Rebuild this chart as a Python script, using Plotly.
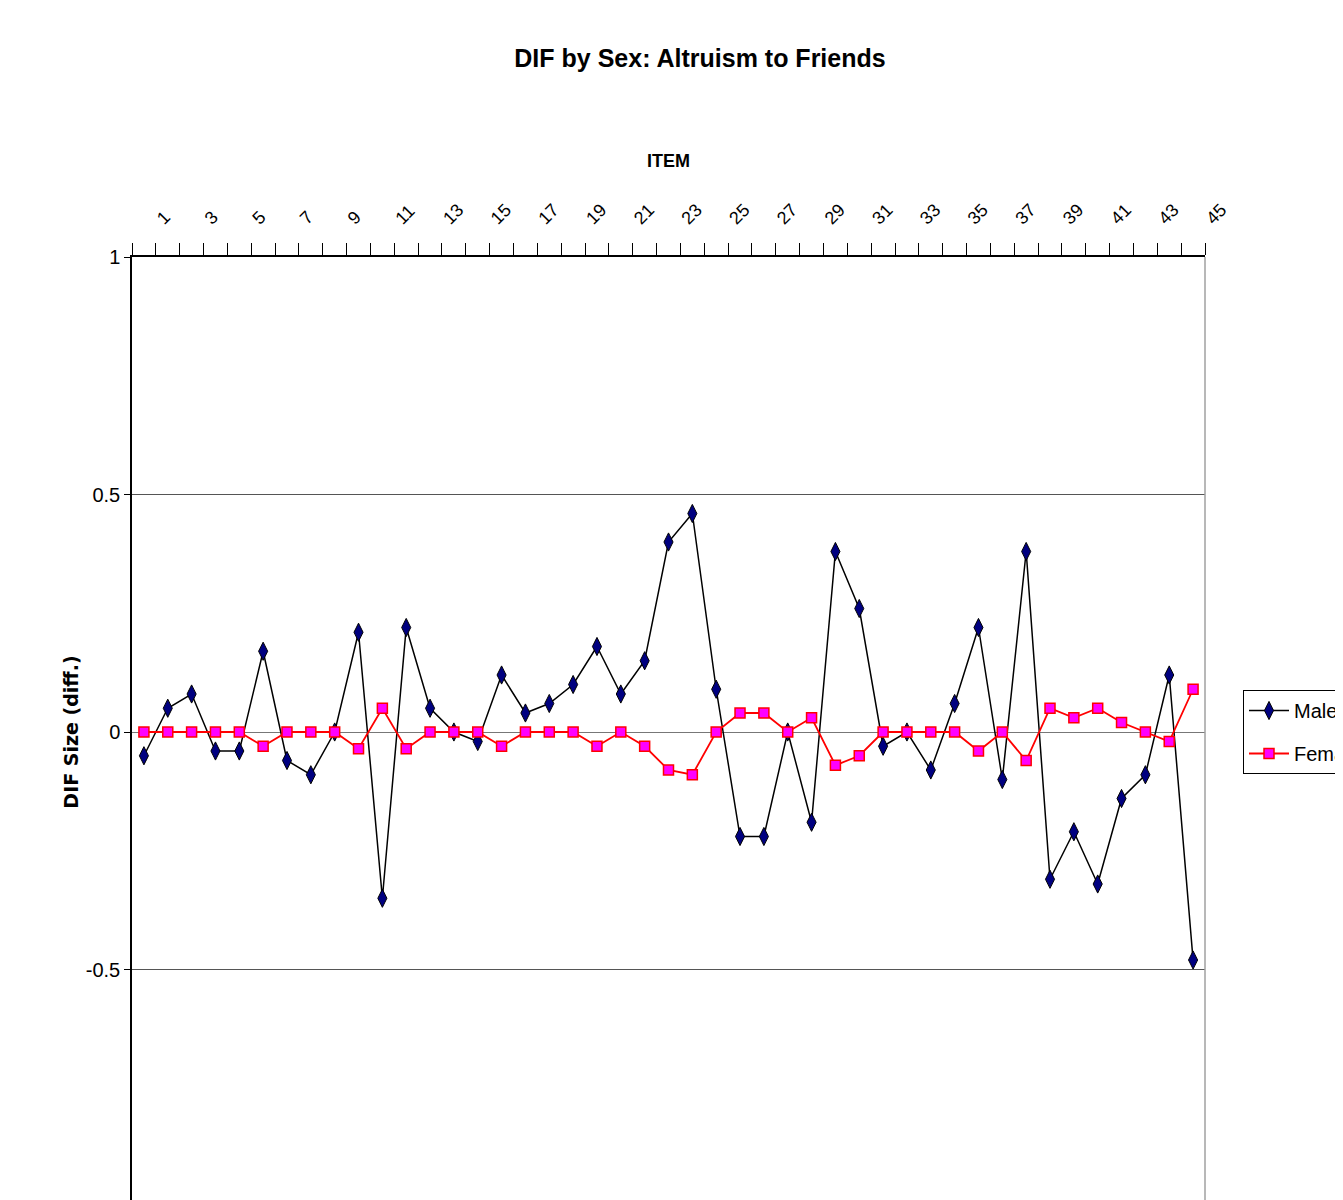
import plotly.graph_objects as go

items = list(range(1, 46))
male = [-0.05, 0.05, 0.08, -0.04, -0.04, 0.17, -0.06, -0.09, 0.00, 0.21,
        -0.35, 0.22, 0.05, 0.00, -0.02, 0.12, 0.04, 0.06, 0.10, 0.18,
        0.08, 0.15, 0.40, 0.46, 0.09, -0.22, -0.22, 0.00, -0.19, 0.38,
        0.26, -0.03, 0.00, -0.08, 0.06, 0.22, -0.10, 0.38, -0.31, -0.21,
        -0.32, -0.14, -0.09, 0.12, -0.48]
female = [0.00, 0.00, 0.00, 0.00, 0.00, -0.03, 0.00, 0.00, 0.00, -0.035,
          0.05, -0.035, 0.00, 0.00, 0.00, -0.03, 0.00, 0.00, 0.00, -0.03,
          0.00, -0.03, -0.08, -0.09, 0.00, 0.04, 0.04, 0.00, 0.03, -0.07,
          -0.05, 0.00, 0.00, 0.00, 0.00, -0.04, 0.00, -0.06, 0.05, 0.03,
          0.05, 0.02, 0.00, -0.02, 0.09]
x_tick_vals = list(range(1, 46, 2))
x_tick_text = [str(v) for v in x_tick_vals]
y_tick_vals = [-1, -0.5, 0, 0.5, 1]
y_tick_text = ["-1", "-0.5", "0", "0.5", "1"]

NARROW = "Liberation Sans Narrow, Arial Narrow, Liberation Sans, Arial, sans-serif"

W, H = 1335, 1260

fig = go.Figure()
fig.add_trace(go.Scatter(
    x=items, y=male, name="Male", mode="lines+markers", legendgroup="m",
    line=dict(color="black", width=1.5),
    marker=dict(symbol="diamond-tall", size=13, color="#000080",
                line=dict(color="black", width=1)),
))
fig.add_trace(go.Scatter(
    x=items, y=female, name="Female", mode="lines+markers", legendgroup="f",
    line=dict(color="#FF0000", width=1.8),
    marker=dict(symbol="square", size=10, color="#FF00FF",
                line=dict(color="#FF0000", width=1.5)),
))

fig.add_shape(type="line", xref="paper", yref="paper", x0=1, x1=1, y0=0, y1=1,
              line=dict(color="#a0a0a0", width=1.5))

fig.update_layout(
    width=W, height=H,
    margin=dict(l=124, r=138, t=249, b=61, autoexpand=False),
    paper_bgcolor="white", plot_bgcolor="white",
    title=dict(text="<b>DIF by Sex: Altruism to Friends</b>",
               x=692 / W, xref="container", xanchor="center",
               y=1 - 50 / H, yref="container", yanchor="middle",
               font=dict(family=NARROW, size=25, color="black")),
    xaxis=dict(
        side="top", range=[0.5, 45.5], tickmode="array",
        tickvals=x_tick_vals, ticktext=x_tick_text, tickangle=-45,
        ticks="", showline=True, linecolor="black", linewidth=1.5,
        showgrid=False, zeroline=False,
        tickfont=dict(family=NARROW, size=18, color="black"),
        ticklabelstandoff=20, ticklabelshift=14,
        minor=dict(tickmode="linear", tick0=0.5, dtick=1, ticks="outside",
                   ticklen=12, tickcolor="black", tickwidth=1, showgrid=False),
        title=dict(text="<b>ITEM</b>", standoff=28,
                   font=dict(family=NARROW, size=18, color="black")),
    ),
    yaxis=dict(
        range=[-1, 1], tickmode="array", tickvals=y_tick_vals,
        ticktext=y_tick_text, ticks="outside", ticklen=6, tickcolor="black",
        showline=True, linecolor="black", linewidth=1.5,
        showgrid=True, gridcolor="#555555", gridwidth=1,
        zeroline=True, zerolinecolor="#777777", zerolinewidth=1,
        tickfont=dict(family=NARROW, size=20, color="black"),
        title=dict(text="<b>DIF Size (diff.)</b>", standoff=2,
                   font=dict(family="DejaVu Sans", size=19, color="black")),
    ),
    legend=dict(
        x=(1243 - 132) / 1073, xanchor="left",
        y=(1207 - 690) / 950, yanchor="top",
        bordercolor="black", borderwidth=1, bgcolor="white",
        font=dict(family=NARROW, size=20, color="black"),
        tracegroupgap=14, itemwidth=40, traceorder="grouped",
    ),
)

fig.write_html("out.html")
